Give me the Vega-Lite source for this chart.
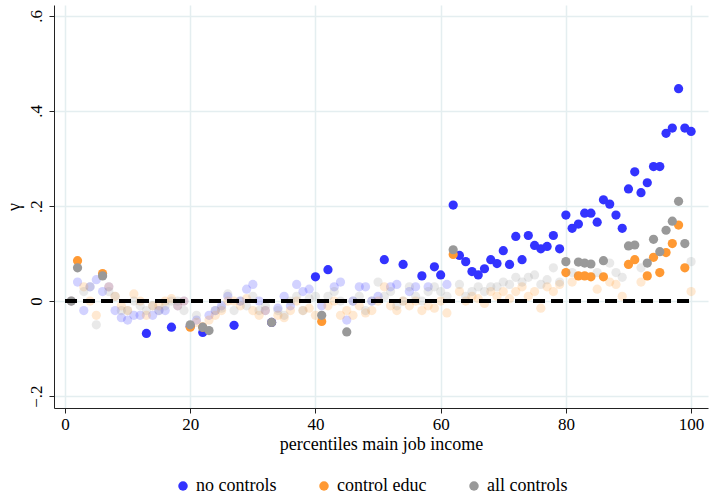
{
  "$schema": "https://vega.github.io/schema/vega-lite/v6.json",
  "autosize": "none",
  "width": 654,
  "height": 403,
  "padding": {"left": 54, "top": 5, "right": 1, "bottom": 89},
  "background": "white",
  "config": {
    "font": "Liberation Serif",
    "view": {"stroke": null},
    "axis": {"gridColor": "#e4eef0", "gridWidth": 1.5, "domainColor": "#222", "tickColor": "#222", "labelColor": "black", "titleColor": "black", "labelFontSize": 17, "titleFontSize": 18, "titleFontWeight": "normal"}
  },
  "layer": [
    {
      "data": {"values": [
        {"p":1,"g":"n","v":0,"s":0},{"p":2,"g":"n","v":0.04,"s":0},{"p":3,"g":"n","v":-0.02,"s":0},{"p":4,"g":"n","v":0.03,"s":0},{"p":5,"g":"n","v":0.045,"s":0},{"p":6,"g":"n","v":0.02,"s":0},{"p":7,"g":"n","v":0.03,"s":0},{"p":8,"g":"n","v":-0.02,"s":0},{"p":9,"g":"n","v":-0.035,"s":0},{"p":10,"g":"n","v":-0.04,"s":0},
        {"p":11,"g":"n","v":-0.03,"s":0},{"p":12,"g":"n","v":-0.03,"s":0},{"p":13,"g":"n","v":-0.068,"s":1},{"p":14,"g":"n","v":-0.03,"s":0},{"p":15,"g":"n","v":-0.02,"s":0},{"p":16,"g":"n","v":-0.02,"s":0},{"p":17,"g":"n","v":-0.055,"s":1},{"p":18,"g":"n","v":-0.01,"s":0},{"p":19,"g":"n","v":0.0,"s":0},{"p":20,"g":"n","v":-0.053,"s":1},
        {"p":21,"g":"n","v":-0.04,"s":0},{"p":22,"g":"n","v":-0.066,"s":1},{"p":23,"g":"n","v":-0.03,"s":0},{"p":24,"g":"n","v":-0.02,"s":0},{"p":25,"g":"n","v":-0.01,"s":0},{"p":26,"g":"n","v":0.01,"s":0},{"p":27,"g":"n","v":-0.051,"s":1},{"p":28,"g":"n","v":0.0,"s":0},{"p":29,"g":"n","v":0.025,"s":0},{"p":30,"g":"n","v":0.035,"s":0},
        {"p":31,"g":"n","v":0.0,"s":0},{"p":32,"g":"n","v":-0.02,"s":0},{"p":33,"g":"n","v":-0.045,"s":1},{"p":34,"g":"n","v":-0.015,"s":0},{"p":35,"g":"n","v":0.01,"s":0},{"p":36,"g":"n","v":-0.01,"s":0},{"p":37,"g":"n","v":0.035,"s":0},{"p":38,"g":"n","v":0.02,"s":0},{"p":39,"g":"n","v":0.025,"s":0},{"p":40,"g":"n","v":0.051,"s":1},
        {"p":41,"g":"n","v":-0.01,"s":0},{"p":42,"g":"n","v":0.066,"s":1},{"p":43,"g":"n","v":0.03,"s":0},{"p":44,"g":"n","v":0.04,"s":0},{"p":45,"g":"n","v":-0.04,"s":0},{"p":46,"g":"n","v":0.0,"s":0},{"p":47,"g":"n","v":0.03,"s":0},{"p":48,"g":"n","v":0.03,"s":0},{"p":49,"g":"n","v":0.0,"s":0},{"p":50,"g":"n","v":0.01,"s":0},
        {"p":51,"g":"n","v":0.087,"s":1},{"p":52,"g":"n","v":0.03,"s":0},{"p":53,"g":"n","v":0.035,"s":0},{"p":54,"g":"n","v":0.077,"s":1},{"p":55,"g":"n","v":0.02,"s":0},{"p":56,"g":"n","v":0.03,"s":0},{"p":57,"g":"n","v":0.053,"s":1},{"p":58,"g":"n","v":0.03,"s":0},{"p":59,"g":"n","v":0.072,"s":1},{"p":60,"g":"n","v":0.055,"s":1},
        {"p":61,"g":"n","v":0.035,"s":0},{"p":62,"g":"n","v":0.202,"s":1},{"p":63,"g":"n","v":0.096,"s":1},{"p":64,"g":"n","v":0.083,"s":1},{"p":65,"g":"n","v":0.062,"s":1},{"p":66,"g":"n","v":0.055,"s":1},{"p":67,"g":"n","v":0.068,"s":1},{"p":68,"g":"n","v":0.087,"s":1},{"p":69,"g":"n","v":0.079,"s":1},{"p":70,"g":"n","v":0.106,"s":1},
        {"p":71,"g":"n","v":0.077,"s":1},{"p":72,"g":"n","v":0.136,"s":1},{"p":73,"g":"n","v":0.087,"s":1},{"p":74,"g":"n","v":0.138,"s":1},{"p":75,"g":"n","v":0.117,"s":1},{"p":76,"g":"n","v":0.11,"s":1},{"p":77,"g":"n","v":0.115,"s":1},{"p":78,"g":"n","v":0.138,"s":1},{"p":79,"g":"n","v":0.11,"s":1},{"p":80,"g":"n","v":0.181,"s":1},
        {"p":81,"g":"n","v":0.153,"s":1},{"p":82,"g":"n","v":0.162,"s":1},{"p":83,"g":"n","v":0.185,"s":1},{"p":84,"g":"n","v":0.185,"s":1},{"p":85,"g":"n","v":0.166,"s":1},{"p":86,"g":"n","v":0.213,"s":1},{"p":87,"g":"n","v":0.204,"s":1},{"p":88,"g":"n","v":0.181,"s":1},{"p":89,"g":"n","v":0.153,"s":1},{"p":90,"g":"n","v":0.236,"s":1},
        {"p":91,"g":"n","v":0.272,"s":1},{"p":92,"g":"n","v":0.228,"s":1},{"p":93,"g":"n","v":0.249,"s":1},{"p":94,"g":"n","v":0.283,"s":1},{"p":95,"g":"n","v":0.283,"s":1},{"p":96,"g":"n","v":0.353,"s":1},{"p":97,"g":"n","v":0.364,"s":1},{"p":98,"g":"n","v":0.447,"s":1},{"p":99,"g":"n","v":0.364,"s":1},{"p":100,"g":"n","v":0.357,"s":1},

        {"p":1,"g":"e","v":0,"s":0},{"p":2,"g":"e","v":0.085,"s":1},{"p":3,"g":"e","v":0.03,"s":0},{"p":4,"g":"e","v":0.0,"s":0},{"p":5,"g":"e","v":-0.03,"s":0},{"p":6,"g":"e","v":0.058,"s":1},{"p":7,"g":"e","v":0.03,"s":0},{"p":8,"g":"e","v":0.01,"s":0},{"p":9,"g":"e","v":-0.01,"s":0},{"p":10,"g":"e","v":-0.02,"s":0},
        {"p":11,"g":"e","v":0.015,"s":0},{"p":12,"g":"e","v":0.0,"s":0},{"p":13,"g":"e","v":-0.03,"s":0},{"p":14,"g":"e","v":-0.01,"s":0},{"p":15,"g":"e","v":-0.01,"s":0},{"p":16,"g":"e","v":0.0,"s":0},{"p":17,"g":"e","v":0.005,"s":0},{"p":18,"g":"e","v":-0.01,"s":0},{"p":19,"g":"e","v":0.0,"s":0},{"p":20,"g":"e","v":-0.055,"s":1},
        {"p":21,"g":"e","v":-0.045,"s":0},{"p":22,"g":"e","v":-0.055,"s":1},{"p":23,"g":"e","v":-0.04,"s":0},{"p":24,"g":"e","v":-0.03,"s":0},{"p":25,"g":"e","v":-0.02,"s":0},{"p":26,"g":"e","v":0.0,"s":0},{"p":27,"g":"e","v":0.0,"s":0},{"p":28,"g":"e","v":-0.01,"s":0},{"p":29,"g":"e","v":0.005,"s":0},{"p":30,"g":"e","v":-0.02,"s":0},
        {"p":31,"g":"e","v":-0.03,"s":0},{"p":32,"g":"e","v":-0.02,"s":0},{"p":33,"g":"e","v":-0.045,"s":0},{"p":34,"g":"e","v":-0.03,"s":0},{"p":35,"g":"e","v":-0.035,"s":0},{"p":36,"g":"e","v":-0.02,"s":0},{"p":37,"g":"e","v":0.0,"s":0},{"p":38,"g":"e","v":-0.02,"s":0},{"p":39,"g":"e","v":-0.015,"s":0},{"p":40,"g":"e","v":-0.03,"s":0},
        {"p":41,"g":"e","v":-0.043,"s":1},{"p":42,"g":"e","v":-0.01,"s":0},{"p":43,"g":"e","v":0.0,"s":0},{"p":44,"g":"e","v":-0.03,"s":0},{"p":45,"g":"e","v":-0.02,"s":0},{"p":46,"g":"e","v":-0.03,"s":0},{"p":47,"g":"e","v":-0.01,"s":0},{"p":48,"g":"e","v":-0.025,"s":0},{"p":49,"g":"e","v":-0.02,"s":0},{"p":50,"g":"e","v":0.0,"s":0},
        {"p":51,"g":"e","v":0.03,"s":0},{"p":52,"g":"e","v":-0.01,"s":0},{"p":53,"g":"e","v":-0.02,"s":0},{"p":54,"g":"e","v":0.0,"s":0},{"p":55,"g":"e","v":-0.01,"s":0},{"p":56,"g":"e","v":0.0,"s":0},{"p":57,"g":"e","v":-0.02,"s":0},{"p":58,"g":"e","v":-0.01,"s":0},{"p":59,"g":"e","v":-0.015,"s":0},{"p":60,"g":"e","v":0.0,"s":0},
        {"p":61,"g":"e","v":-0.025,"s":0},{"p":62,"g":"e","v":0.098,"s":1},{"p":63,"g":"e","v":0.02,"s":0},{"p":64,"g":"e","v":0.0,"s":0},{"p":65,"g":"e","v":0.01,"s":0},{"p":66,"g":"e","v":0.005,"s":0},{"p":67,"g":"e","v":-0.005,"s":0},{"p":68,"g":"e","v":0.02,"s":0},{"p":69,"g":"e","v":0.01,"s":0},{"p":70,"g":"e","v":0.02,"s":0},
        {"p":71,"g":"e","v":0.005,"s":0},{"p":72,"g":"e","v":0.02,"s":0},{"p":73,"g":"e","v":0.03,"s":0},{"p":74,"g":"e","v":0.01,"s":0},{"p":75,"g":"e","v":0.02,"s":0},{"p":76,"g":"e","v":-0.015,"s":0},{"p":77,"g":"e","v":0.03,"s":0},{"p":78,"g":"e","v":0.02,"s":0},{"p":79,"g":"e","v":0.035,"s":0},{"p":80,"g":"e","v":0.06,"s":1},
        {"p":81,"g":"e","v":0.04,"s":0},{"p":82,"g":"e","v":0.053,"s":1},{"p":83,"g":"e","v":0.053,"s":1},{"p":84,"g":"e","v":0.051,"s":1},{"p":85,"g":"e","v":0.025,"s":0},{"p":86,"g":"e","v":0.051,"s":1},{"p":87,"g":"e","v":0.04,"s":0},{"p":88,"g":"e","v":0.035,"s":0},{"p":89,"g":"e","v":0.01,"s":0},{"p":90,"g":"e","v":0.077,"s":1},
        {"p":91,"g":"e","v":0.087,"s":1},{"p":92,"g":"e","v":0.04,"s":0},{"p":93,"g":"e","v":0.053,"s":1},{"p":94,"g":"e","v":0.092,"s":1},{"p":95,"g":"e","v":0.06,"s":1},{"p":96,"g":"e","v":0.102,"s":1},{"p":97,"g":"e","v":0.121,"s":1},{"p":98,"g":"e","v":0.16,"s":1},{"p":99,"g":"e","v":0.07,"s":1},{"p":100,"g":"e","v":0.02,"s":0},

        {"p":1,"g":"a","v":0,"s":1},{"p":2,"g":"a","v":0.07,"s":1},{"p":3,"g":"a","v":0.02,"s":0},{"p":4,"g":"a","v":0.03,"s":0},{"p":5,"g":"a","v":-0.05,"s":0},{"p":6,"g":"a","v":0.053,"s":1},{"p":7,"g":"a","v":0.02,"s":0},{"p":8,"g":"a","v":0.01,"s":0},{"p":9,"g":"a","v":-0.02,"s":0},{"p":10,"g":"a","v":-0.02,"s":0},
        {"p":11,"g":"a","v":0.0,"s":0},{"p":12,"g":"a","v":-0.01,"s":0},{"p":13,"g":"a","v":-0.02,"s":0},{"p":14,"g":"a","v":-0.01,"s":0},{"p":15,"g":"a","v":-0.02,"s":0},{"p":16,"g":"a","v":-0.01,"s":0},{"p":17,"g":"a","v":0.0,"s":0},{"p":18,"g":"a","v":0.0,"s":0},{"p":19,"g":"a","v":-0.02,"s":0},{"p":20,"g":"a","v":-0.05,"s":1},
        {"p":21,"g":"a","v":-0.03,"s":0},{"p":22,"g":"a","v":-0.055,"s":1},{"p":23,"g":"a","v":-0.062,"s":1},{"p":24,"g":"a","v":-0.02,"s":0},{"p":25,"g":"a","v":-0.015,"s":0},{"p":26,"g":"a","v":0.015,"s":0},{"p":27,"g":"a","v":-0.02,"s":0},{"p":28,"g":"a","v":0.0,"s":0},{"p":29,"g":"a","v":-0.01,"s":0},{"p":30,"g":"a","v":0.01,"s":0},
        {"p":31,"g":"a","v":-0.02,"s":0},{"p":32,"g":"a","v":-0.01,"s":0},{"p":33,"g":"a","v":-0.045,"s":1},{"p":34,"g":"a","v":-0.02,"s":0},{"p":35,"g":"a","v":-0.03,"s":0},{"p":36,"g":"a","v":0.0,"s":0},{"p":37,"g":"a","v":0.01,"s":0},{"p":38,"g":"a","v":-0.02,"s":0},{"p":39,"g":"a","v":0.005,"s":0},{"p":40,"g":"a","v":0.01,"s":0},
        {"p":41,"g":"a","v":-0.03,"s":1},{"p":42,"g":"a","v":0.01,"s":0},{"p":43,"g":"a","v":0.02,"s":0},{"p":44,"g":"a","v":0.0,"s":0},{"p":45,"g":"a","v":-0.065,"s":1},{"p":46,"g":"a","v":0.0,"s":0},{"p":47,"g":"a","v":0.01,"s":0},{"p":48,"g":"a","v":-0.02,"s":0},{"p":49,"g":"a","v":0.0,"s":0},{"p":50,"g":"a","v":0.04,"s":0},
        {"p":51,"g":"a","v":0.01,"s":0},{"p":52,"g":"a","v":0.02,"s":0},{"p":53,"g":"a","v":-0.01,"s":0},{"p":54,"g":"a","v":0.0,"s":0},{"p":55,"g":"a","v":0.03,"s":0},{"p":56,"g":"a","v":0.01,"s":0},{"p":57,"g":"a","v":0.0,"s":0},{"p":58,"g":"a","v":0.02,"s":0},{"p":59,"g":"a","v":0.03,"s":0},{"p":60,"g":"a","v":0.02,"s":0},
        {"p":61,"g":"a","v":0.01,"s":0},{"p":62,"g":"a","v":0.108,"s":1},{"p":63,"g":"a","v":0.035,"s":0},{"p":64,"g":"a","v":0.01,"s":0},{"p":65,"g":"a","v":0.02,"s":0},{"p":66,"g":"a","v":0.03,"s":0},{"p":67,"g":"a","v":0.02,"s":0},{"p":68,"g":"a","v":0.03,"s":0},{"p":69,"g":"a","v":0.03,"s":0},{"p":70,"g":"a","v":0.04,"s":0},
        {"p":71,"g":"a","v":0.035,"s":0},{"p":72,"g":"a","v":0.05,"s":0},{"p":73,"g":"a","v":0.04,"s":0},{"p":74,"g":"a","v":0.05,"s":0},{"p":75,"g":"a","v":0.055,"s":0},{"p":76,"g":"a","v":0.035,"s":0},{"p":77,"g":"a","v":0.045,"s":0},{"p":78,"g":"a","v":0.07,"s":0},{"p":79,"g":"a","v":0.04,"s":0},{"p":80,"g":"a","v":0.083,"s":1},
        {"p":81,"g":"a","v":0.06,"s":0},{"p":82,"g":"a","v":0.082,"s":1},{"p":83,"g":"a","v":0.08,"s":1},{"p":84,"g":"a","v":0.078,"s":1},{"p":85,"g":"a","v":0.06,"s":0},{"p":86,"g":"a","v":0.085,"s":1},{"p":87,"g":"a","v":0.08,"s":0},{"p":88,"g":"a","v":0.06,"s":0},{"p":89,"g":"a","v":0.05,"s":0},{"p":90,"g":"a","v":0.116,"s":1},
        {"p":91,"g":"a","v":0.118,"s":1},{"p":92,"g":"a","v":0.07,"s":0},{"p":93,"g":"a","v":0.08,"s":1},{"p":94,"g":"a","v":0.13,"s":1},{"p":95,"g":"a","v":0.104,"s":1},{"p":96,"g":"a","v":0.149,"s":1},{"p":97,"g":"a","v":0.168,"s":1},{"p":98,"g":"a","v":0.21,"s":1},{"p":99,"g":"a","v":0.121,"s":1},{"p":100,"g":"a","v":0.083,"s":0}
      ]},
      "mark": {"type": "circle", "size": 85, "opacity": 1},
      "encoding": {
        "x": {"field": "p", "type": "quantitative", "scale": {"domain": [-1.76, 102.7], "nice": false, "zero": false},
          "axis": {"values": [0, 20, 40, 60, 80, 100], "title": "percentiles main job income", "titlePadding": 3, "labelPadding": 3, "tickSize": 5}},
        "y": {"field": "v", "type": "quantitative", "scale": {"domain": [-0.225, 0.623], "nice": false, "zero": false},
          "axis": {"values": [-0.2, 0, 0.2, 0.4, 0.6], "labelExpr": "datum.value == 0 ? '0' : replace(format(datum.value, '.1f'), '0.', '.')", "labelAngle": -90, "labelAlign": "center", "labelBaseline": "bottom", "labelPadding": 4, "tickSize": 5, "title": "γ", "titleAngle": -90, "titlePadding": 4}},
        "color": {"field": "g", "type": "nominal", "scale": {"domain": ["n", "e", "a"], "range": ["#3333ff", "#ff9933", "#999999"]},
          "legend": {"orient": "none", "legendX": 120, "legendY": 472, "direction": "horizontal", "title": null, "labelExpr": "datum.value == 'n' ? 'no controls' : datum.value == 'e' ? 'control educ' : 'all controls'", "labelFontSize": 18, "symbolType": "circle", "symbolSize": 90, "symbolOpacity": 1, "columnPadding": 38}},
        "opacity": {"field": "s", "type": "quantitative", "scale": {"domain": [0, 1], "range": [0.22, 1]}, "legend": null}
      }
    },
    {
      "data": {"values": [{"a": 0, "b": 100, "y": 0}]},
      "mark": {"type": "rule", "color": "black", "strokeWidth": 4, "strokeDash": [12, 6]},
      "encoding": {"x": {"field": "a", "type": "quantitative"}, "x2": {"field": "b"}, "y": {"field": "y", "type": "quantitative"}}
    }
  ]
}
